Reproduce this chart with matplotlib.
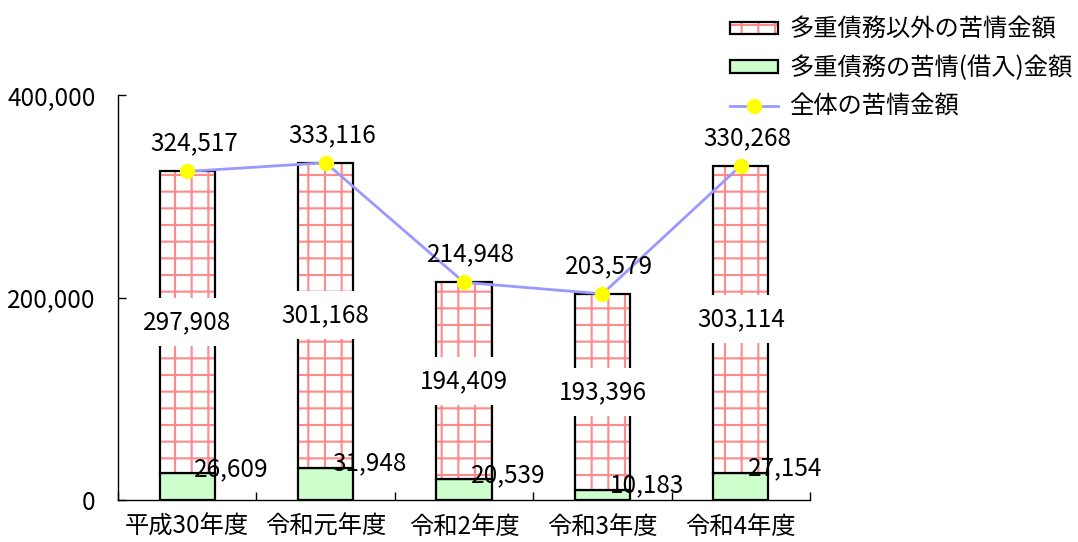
import numpy as np
import matplotlib
matplotlib.use('Agg')
import matplotlib.pyplot as plt
from matplotlib.patches import Patch
from matplotlib.lines import Line2D
from matplotlib.legend_handler import HandlerTuple

plt.rcParams['font.family'] = ['Noto Sans CJK JP', 'DejaVu Sans']
plt.rcParams['hatch.linewidth'] = 1.5

# 年度ごとの苦情金額
nendo = ['平成30年度', '令和元年度', '令和2年度', '令和3年度', '令和4年度']
sonota = [297908, 301168, 194409, 193396, 303114]   # 多重債務以外
karire = [26609, 31948, 20539, 10183, 27154]        # 多重債務(借入)
zentai = [324517, 333116, 214948, 203579, 330268]   # 全体

x = np.arange(len(nendo))
w = 0.4
aka = '#ff8a8a'
midori = '#ccffcc'
fs = 17.5

fig = plt.figure(figsize=(10.78, 5.42), dpi=100)
ax = fig.add_axes([0.1095, 0.0775, 0.6419, 0.7472])

# 下段(借入)
ax.bar(x, karire, w, color=midori, edgecolor='black', linewidth=1.6, zorder=2)
# 上段(それ以外) 格子模様
ax.bar(x, sonota, w, bottom=karire, color='white', edgecolor=aka,
       hatch='+', linewidth=0, zorder=2)
ax.bar(x, sonota, w, bottom=karire, fill=False, edgecolor='black',
       linewidth=1.6, zorder=3)

# 全体の折れ線
ax.plot(x, zentai, color='#9999ff', linewidth=2, marker='o', markersize=10,
        markerfacecolor='#ffff00', markeredgecolor='#ffff00', zorder=5)

for i in range(len(x)):
    ax.annotate(f'{zentai[i]:,}', (x[i], zentai[i]), xytext=(5, 20),
                textcoords='offset points', ha='center', va='center',
                fontsize=fs, zorder=6)
    ax.text(x[i], karire[i] + sonota[i] / 2, f'{sonota[i]:,}', ha='center',
            va='center', fontsize=fs, zorder=6,
            bbox=dict(facecolor='white', edgecolor='none', pad=8))
    ax.text(x[i] + 0.32, karire[i] + 4000, f'{karire[i]:,}', ha='center',
            va='center', fontsize=fs, zorder=4)

ax.set_xlim(-0.5, len(x) - 0.5)
ax.set_ylim(0, 400000)
ax.set_yticks([0, 200000, 400000])
ax.set_yticklabels(['0', '200,000', '400,000'], fontsize=fs)
ax.tick_params(axis='y', direction='in', length=6, width=1, pad=16)

# 区切りの目盛り
ax.set_xticks(np.arange(-0.5, len(x), 1.0))
ax.set_xticklabels([])
ax.set_xticks(x, minor=True)
ax.set_xticklabels(nendo, minor=True, fontsize=fs)
ax.tick_params(axis='x', which='major', direction='in', length=6, width=1)
ax.tick_params(axis='x', which='minor', length=0, pad=10)

for s in ['top', 'right']:
    ax.spines[s].set_visible(False)
ax.spines['left'].set_linewidth(1)
ax.spines['bottom'].set_linewidth(1)

h1 = (Patch(facecolor='white', edgecolor=aka, hatch='+', linewidth=0),
      Patch(fill=False, edgecolor='black', linewidth=1.6))
h2 = Patch(facecolor=midori, edgecolor='black', linewidth=1.6)
h3 = Line2D([], [], color='#9999ff', linewidth=2, marker='o', markersize=10,
            markerfacecolor='#ffff00', markeredgecolor='#ffff00')
fig.legend([h1, h2, h3],
           ['多重債務以外の苦情金額', '多重債務の苦情(借入)金額', '全体の苦情金額'],
           handler_map={tuple: HandlerTuple(ndivide=1)},
           loc='upper left', bbox_to_anchor=(0.661, 1.0), frameon=False,
           fontsize=fs, handlelength=2.0, handleheight=0.4,
           handletextpad=0.45, labelspacing=0.5, borderpad=0.2)

fig.savefig('out.png', dpi=100)
